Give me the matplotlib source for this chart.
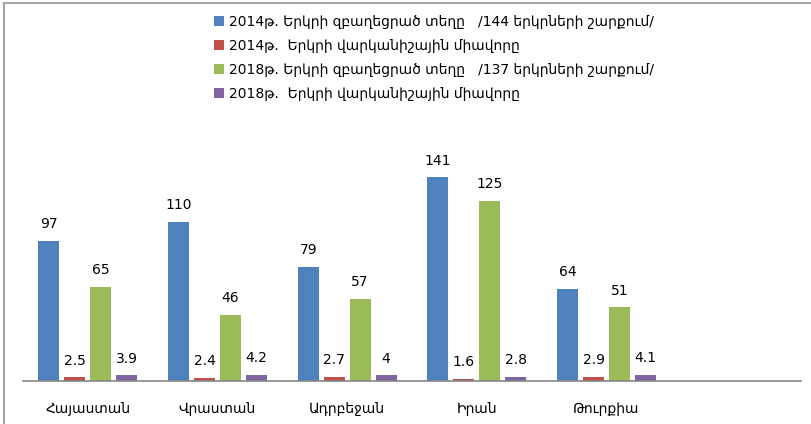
import matplotlib
matplotlib.use("Agg")
import matplotlib.pyplot as plt
from matplotlib.lines import Line2D
import numpy as np

plt.rcParams['font.family'] = ['DejaVu Sans']

categories = ["Հայաստան", "Վրաստան", "Ադրբեջան", "Իրան", "Թուրքիա"]
series_names = [
    "2014թ. Երկրի զբաղեցրած տեղը   /144 երկրների շարքում/",
    "2014թ.  Երկրի վարկանիշային միավորը",
    "2018թ. Երկրի զբաղեցրած տեղը   /137 երկրների շարքում/",
    "2018թ.  Երկրի վարկանիշային միավորը",
]
rank_2014 = [97, 110, 79, 141, 64]
score_2014 = [2.5, 2.4, 2.7, 1.6, 2.9]
rank_2018 = [65, 46, 57, 125, 51]
score_2018 = [3.9, 4.2, 4.0, 2.8, 4.1]
label_texts = [
    ["97", "110", "79", "141", "64"],
    ["2.5", "2.4", "2.7", "1.6", "2.9"],
    ["65", "46", "57", "125", "51"],
    ["3.9", "4.2", "4", "2.8", "4.1"],
]
colors = ["#4F81BD", "#C0504D", "#9BBB59", "#8064A2"]

W, H = 812, 424
fig = plt.figure(figsize=(W / 100, H / 100), dpi=100)
ax = fig.add_axes([23 / W, (H - 381) / H, (801 - 23) / W, 231 / H])

x = np.arange(len(categories))
offsets = [-0.3, -0.1, 0.1, 0.3]
data = [rank_2014, score_2014, rank_2018, score_2018]
handles = []
for vals, off, col, name, labs in zip(data, offsets, colors, series_names, label_texts):
    bars = ax.bar(x + off, vals, width=0.162, color=col, label=name, zorder=2)
    ax.bar_label(bars, labels=labs, padding=7, fontsize=10, color="#000000")
    handles.append(bars)

ax.set_xlim(-0.5, 5.5)
ax.set_ylim(0, 160)
ax.set_yticks([])
ax.set_xticks(x)
ax.set_xticklabels(categories, fontsize=10)
ax.tick_params(axis='x', length=0, pad=15)
for s in ["top", "right", "left"]:
    ax.spines[s].set_visible(False)
ax.spines["bottom"].set_color("#868686")
ax.spines["bottom"].set_linewidth(1.2)

fig.legend(handles=handles, labels=series_names, loc="upper left",
           bbox_to_anchor=(207 / W, 1 - 8 / H), frameon=False,
           fontsize=10, handlelength=0.75, handleheight=0.75,
           handletextpad=0.3, labelspacing=0.72, borderpad=0)

# outer chart border (top and left edges visible)
fig.add_artist(Line2D([4 / W, 1.0], [1 - 2.5 / H, 1 - 2.5 / H], transform=fig.transFigure,
                      color="#A6A6A6", linewidth=1.5))
fig.add_artist(Line2D([4.5 / W, 4.5 / W], [0.0, 1 - 2.5 / H], transform=fig.transFigure,
                      color="#A6A6A6", linewidth=1.5))

fig.savefig("out.png", dpi=100)
